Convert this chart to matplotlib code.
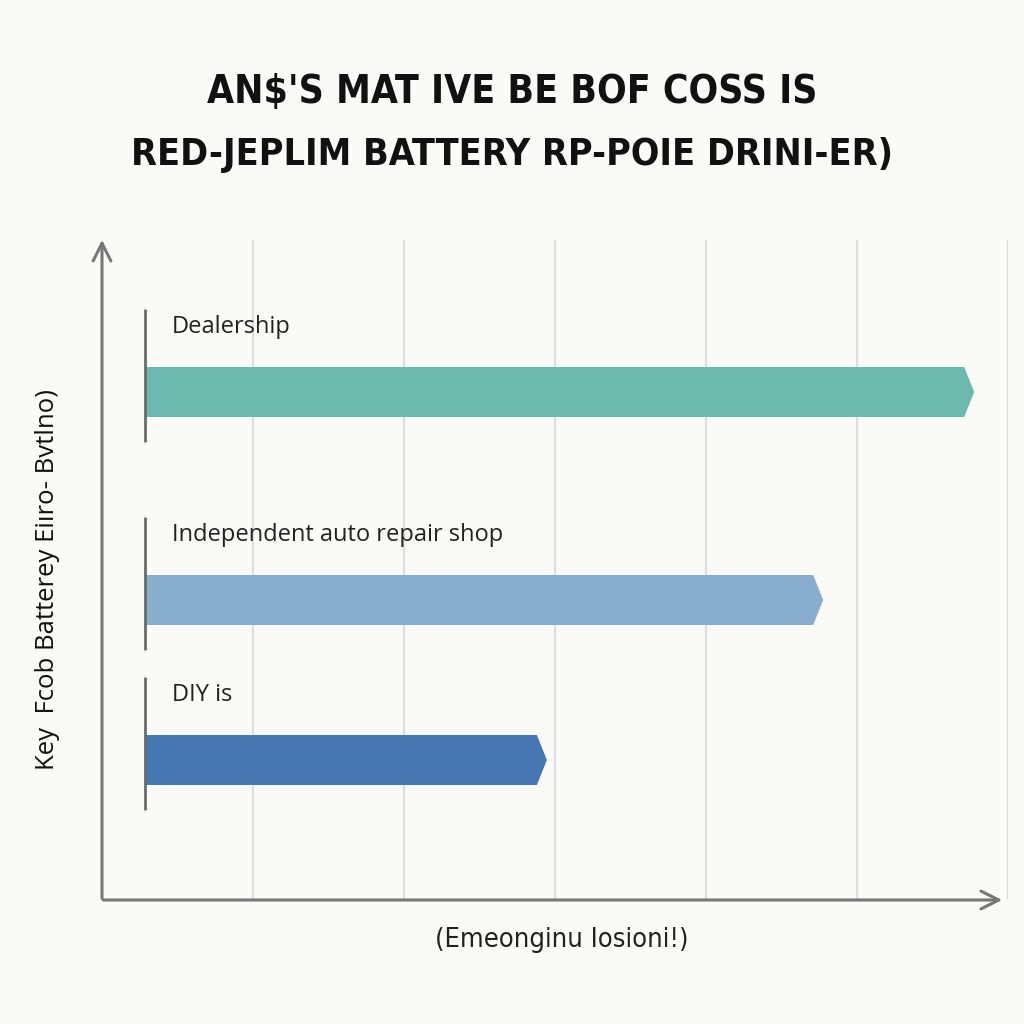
import numpy as np
import matplotlib.pyplot as plt
from matplotlib.patches import Polygon

# data
categories = ["Dealership", "Independent auto repair shop", "DIY is"]
cost_end = [5.71, 4.71, 2.88]          # where each bar body ends (x units)
bar_start = 0.285
bar_pos = [5.08, 3.0, 1.4]
bar_colors = ["#6cbaae", "#87adcf", "#4677b4"]
grid_x = [1, 2, 3, 4, 5, 6]

title_lines = ["AN$'S MAT IVE BE BOF COSS IS", "RED-JEPLIM BATTERY RP-POIE DRINI-ER)"]
ylabel = "Key  Fcob Batterey Eiıro- Bvtlno)"
xlabel = "(Emeonginu Iosioni!)"

bg = "#fafaf7"
fig = plt.figure(figsize=(10.24, 10.24), dpi=100, facecolor=bg)
ax = fig.add_axes([102/1024, 124/1024, 906/1024, 660/1024])
ax.set_facecolor(bg)
ax.set_xlim(0, 6)
ax.set_ylim(0, 6.6)
for s in ax.spines.values():
    s.set_visible(False)
ax.set_xticks([])
ax.set_yticks([])

# grid
ax.vlines(grid_x, 0, 6.6, color="#dedede", lw=1.6, zorder=0)

# bars with pointed tips
h = 0.5
tip = 0.066
for cat, end, y, c in zip(categories, cost_end, bar_pos, bar_colors):
    verts = [(bar_start, y - h/2), (end, y - h/2), (end + tip, y),
             (end, y + h/2), (bar_start, y + h/2)]
    ax.add_patch(Polygon(verts, closed=True, fc=c, ec="none", zorder=2))
    ax.vlines(bar_start, y - 0.5, y + 0.83, color="#6a6a6a", lw=2, zorder=3)
    ax.text(bar_start + 0.18, y + 0.65, cat, fontsize=17, color="#222222",
            family="Open Sans", va="center", ha="left")

# axes with arrows
ax.annotate("", xy=(0, 6.63), xytext=(0, -0.01), annotation_clip=False,
            arrowprops=dict(arrowstyle="->", color="#777777", lw=2.2, mutation_scale=32))
ax.annotate("", xy=(5.98, 0), xytext=(-0.01, 0), annotation_clip=False,
            arrowprops=dict(arrowstyle="->", color="#777777", lw=2.2, mutation_scale=32))

# titles and labels
fig.text(0.5, 1 - 92/1024, title_lines[0], ha="center", va="center", fontsize=28,
         fontweight="bold", fontstretch="condensed", family="DejaVu Sans", color="#111111")
fig.text(0.5, 1 - 155/1024, title_lines[1], ha="center", va="center", fontsize=27,
         fontweight="bold", fontstretch="condensed", family="DejaVu Sans", color="#111111")
fig.text(48/1024, 1 - 580/1024, ylabel, rotation=90, ha="center", va="center",
         fontsize=18.5, color="#111111", family="Open Sans")
fig.text(562/1024, 1 - 940/1024, xlabel, ha="center", va="center", fontsize=19.5,
         fontstretch="condensed", family="DejaVu Sans", color="#222222")

fig.savefig("out.png", dpi=100, facecolor=bg)
